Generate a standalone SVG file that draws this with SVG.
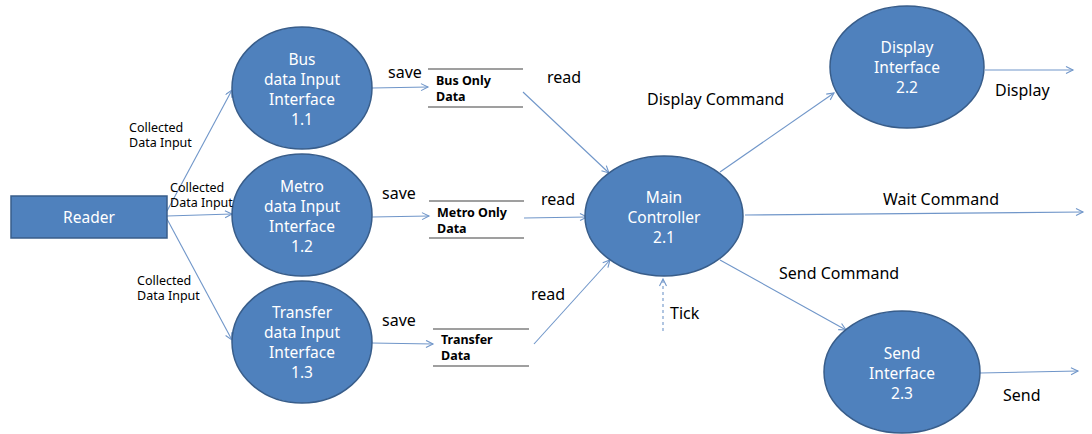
<svg xmlns="http://www.w3.org/2000/svg" width="1092" height="434" viewBox="0 0 1092 434">
<style>
.node{fill:#4F81BD;stroke:#385D8A;stroke-width:1.5}
.nt{font-family:"Noto Sans","Open Sans",sans-serif;font-size:15.5px;fill:#ffffff;text-anchor:middle}
.lbl{font-family:"Noto Sans","Open Sans",sans-serif;font-size:16px;fill:#000000}
.sm{font-family:"Noto Sans","Open Sans",sans-serif;font-size:12.5px;fill:#000000}
.st{font-family:"Noto Sans","Open Sans",sans-serif;font-size:12.5px;font-weight:bold;fill:#000000}
.ln{stroke:#404040;stroke-width:1.2}
.cn{fill:none;stroke:#7096C9;stroke-width:1.1;marker-end:url(#ah)}
.dash{stroke-dasharray:3,3}
</style>
<defs>
<marker id="ah" markerWidth="10" markerHeight="10" refX="8" refY="4" orient="auto" markerUnits="userSpaceOnUse">
<path d="M1,0.5 L8,4 L1,7.5" fill="none" stroke="#7096C9" stroke-width="1.1"/>
</marker>
</defs>
<g id="connectors">
<line class="cn" x1="167" y1="211" x2="232" y2="90"/>
<line class="cn" x1="167" y1="216" x2="232" y2="214"/>
<line class="cn" x1="167" y1="219" x2="232" y2="340"/>
<line class="cn" x1="372" y1="88" x2="428" y2="87"/>
<line class="cn" x1="372" y1="217" x2="429" y2="216"/>
<line class="cn" x1="371" y1="343" x2="433" y2="344"/>
<line class="cn" x1="523" y1="92" x2="609" y2="173"/>
<line class="cn" x1="524" y1="218" x2="587" y2="217"/>
<line class="cn" x1="534" y1="344" x2="610" y2="260"/>
<line class="cn" x1="720" y1="172" x2="834" y2="93"/>
<line class="cn" x1="745" y1="215" x2="1083" y2="212"/>
<line class="cn" x1="720" y1="260" x2="846" y2="330"/>
<line class="cn dash" x1="663" y1="331" x2="663" y2="279"/>
<line class="cn" x1="985" y1="70" x2="1073" y2="70"/>
<line class="cn" x1="980" y1="373" x2="1078" y2="371"/>
</g>
<g id="reader">
<rect class="node" x="11" y="196" width="156" height="42"/>
<text class="nt" x="89" y="223">Reader</text>
</g>
<g id="bus">
<ellipse class="node" cx="302" cy="88" rx="70" ry="61"/>
<text class="nt" x="302" y="65">Bus</text>
<text class="nt" x="302" y="85">data Input</text>
<text class="nt" x="302" y="105">Interface</text>
<text class="nt" x="302" y="125">1.1</text>
</g>
<g id="metro">
<ellipse class="node" cx="302" cy="215" rx="70" ry="61"/>
<text class="nt" x="302" y="192">Metro</text>
<text class="nt" x="302" y="212">data Input</text>
<text class="nt" x="302" y="232">Interface</text>
<text class="nt" x="302" y="252">1.2</text>
</g>
<g id="transfer">
<ellipse class="node" cx="302" cy="342" rx="70" ry="61"/>
<text class="nt" x="302" y="318">Transfer</text>
<text class="nt" x="302" y="338">data Input</text>
<text class="nt" x="302" y="358">Interface</text>
<text class="nt" x="302" y="378">1.3</text>
</g>
<g id="main">
<ellipse class="node" cx="664" cy="216" rx="79" ry="60"/>
<text class="nt" x="664" y="203">Main</text>
<text class="nt" x="664" y="223">Controller</text>
<text class="nt" x="664" y="243">2.1</text>
</g>
<g id="display">
<ellipse class="node" cx="907" cy="67" rx="77" ry="61"/>
<text class="nt" x="907" y="53">Display</text>
<text class="nt" x="907" y="73">Interface</text>
<text class="nt" x="907" y="93">2.2</text>
</g>
<g id="send">
<ellipse class="node" cx="902" cy="372" rx="78" ry="61"/>
<text class="nt" x="902" y="359">Send</text>
<text class="nt" x="902" y="379">Interface</text>
<text class="nt" x="902" y="399">2.3</text>
</g>
<g id="store-bus">
<line class="ln" x1="428" y1="69" x2="523" y2="69"/>
<line class="ln" x1="428" y1="107" x2="523" y2="107"/>
<text class="st" x="436" y="85">Bus Only</text>
<text class="st" x="436" y="101">Data</text>
</g>
<g id="store-metro">
<line class="ln" x1="429" y1="201" x2="524" y2="201"/>
<line class="ln" x1="429" y1="238" x2="524" y2="238"/>
<text class="st" x="437" y="217">Metro Only</text>
<text class="st" x="437" y="233">Data</text>
</g>
<g id="store-transfer">
<line class="ln" x1="433" y1="329" x2="529" y2="329"/>
<line class="ln" x1="433" y1="366" x2="529" y2="366"/>
<text class="st" x="441" y="344">Transfer</text>
<text class="st" x="441" y="360">Data</text>
</g>
<g id="labels">
<text class="sm" x="129" y="132">Collected</text>
<text class="sm" x="129" y="147">Data Input</text>
<text class="sm" x="170" y="192">Collected</text>
<text class="sm" x="170" y="207">Data Input</text>
<text class="sm" x="137" y="285">Collected</text>
<text class="sm" x="137" y="300">Data Input</text>
<text class="lbl" x="388" y="78">save</text>
<text class="lbl" x="382" y="199">save</text>
<text class="lbl" x="382" y="326">save</text>
<text class="lbl" x="547" y="83">read</text>
<text class="lbl" x="541" y="205">read</text>
<text class="lbl" x="531" y="300">read</text>
<text class="lbl" x="647" y="105">Display Command</text>
<text class="lbl" x="995" y="96">Display</text>
<text class="lbl" x="883" y="205">Wait Command</text>
<text class="lbl" x="779" y="279">Send Command</text>
<text class="lbl" x="670" y="319">Tick</text>
<text class="lbl" x="1003" y="401">Send</text>
</g>
</svg>
